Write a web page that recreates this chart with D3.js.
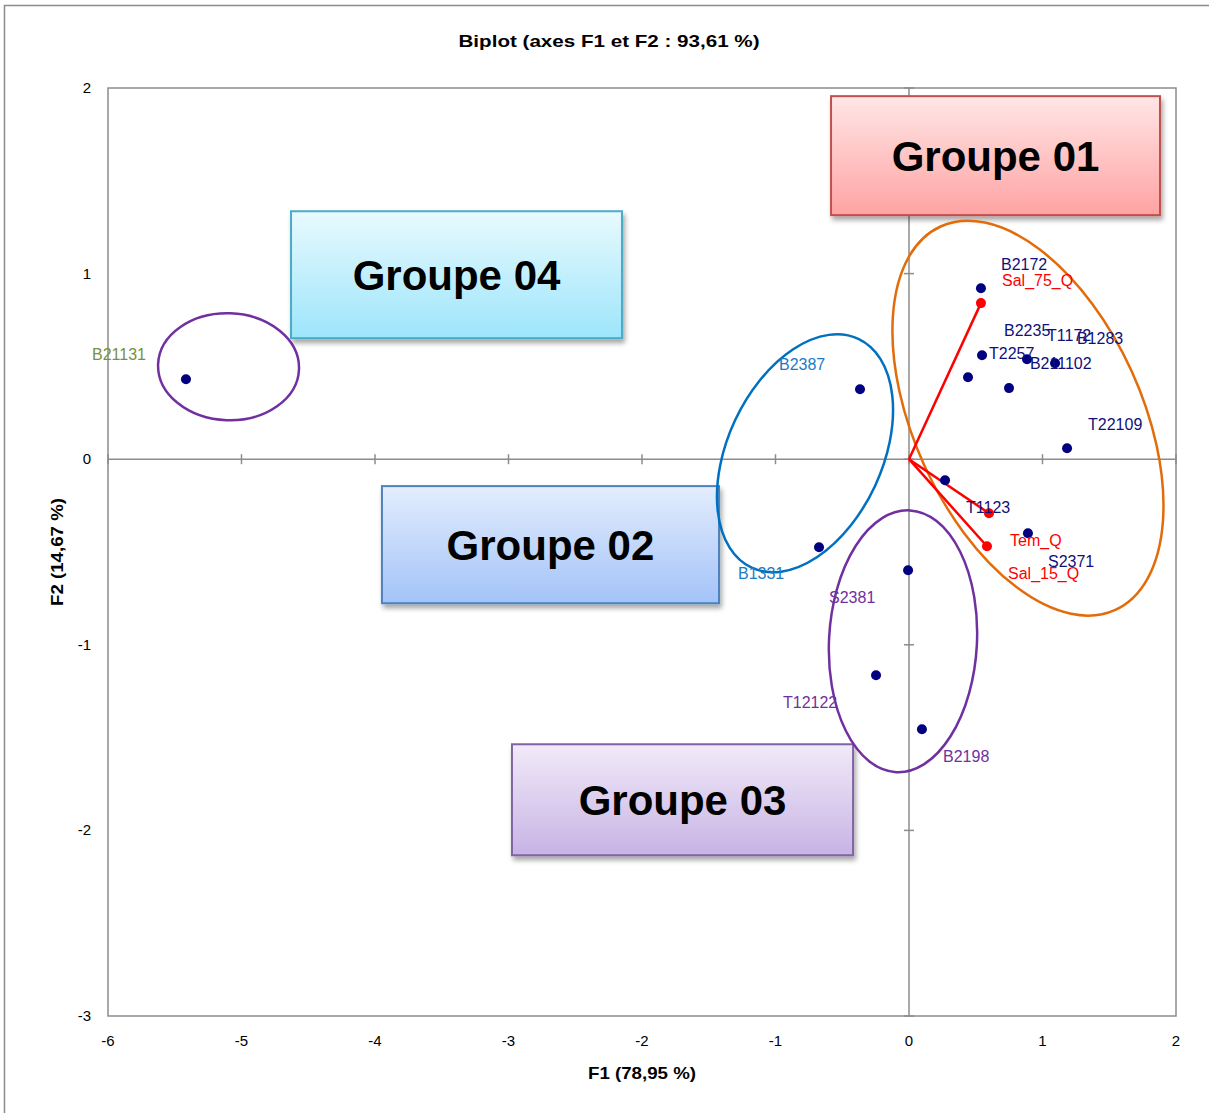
<!DOCTYPE html>
<html><head><meta charset="utf-8">
<script src="https://cdn.jsdelivr.net/npm/d3@7"></script>
<style>
html,body{margin:0;padding:0;background:#fff;}
svg{display:block;}
text{font-family:"Liberation Sans",Arial,sans-serif;}
</style></head>
<body>
<svg id="chart" width="1209" height="1113"></svg>
<script>
// ---------- data ----------
const titleText = "Biplot (axes F1 et F2 : 93,61 %)";
const xAxisTitle = "F1 (78,95 %)";
const yAxisTitle = "F2 (14,67 %)";
const xTicks = [-6,-5,-4,-3,-2,-1,0,1,2];
const yTicks = [-3,-2,-1,0,1,2];

// observations
const obsNames = ["B2172","T2257","B2235","T1172","B211102","B1283","T22109","T1123","S2371",
                  "B2387","B1331","S2381","T12122","B2198","B21131"];
const obsF1 = [0.539,0.547,0.442,0.749,0.884,1.094,1.184,0.270,0.891,
               -0.367,-0.674,-0.007,-0.247,0.097,-5.416];
const obsF2 = [0.921,0.560,0.442,0.383,0.539,0.517,0.059,-0.113,-0.399,
               0.377,-0.474,-0.598,-1.164,-1.455,0.431];
const obsGroup = ["g1","g1","g1","g1","g1","g1","g1","g1","g1","g2","g2","g3","g3","g3","g4"];
// label anchor (left, middle) in axis units
const obsLabelF1 = [0.689,0.599,0.712,1.034,0.906,1.258,1.341,0.427,1.041,
                    -0.974,-1.281,-0.599,-0.944,0.255,-6.120];
const obsLabelF2 = [1.051,0.571,0.695,0.668,0.517,0.652,0.189,-0.259,-0.550,
                    0.512,-0.614,-0.744,-1.309,-1.600,0.566];

// variables (vectors)
const varNames = ["Sal_75_Q","Tem_Q","Sal_15_Q"];
const varF1 = [0.539,0.599,0.584];
const varF2 = [0.841,-0.291,-0.469];
const varLabelF1 = [0.697,0.757,0.742];
const varLabelF2 = [0.964,-0.436,-0.614];

// group ellipses: centre (axis units), semi-axes (axis units of x / y), rotation (deg)
const ellGroup = ["g1","g2","g3","g4"];
const ellCF1 = [0.891,-0.779,-0.045,-5.097];
const ellCF2 = [0.221,0.032,-0.981,0.498];
const ellRX = [0.853,0.579,0.554,0.528];   // in F1 units
const ellRY = [1.135,0.680,0.706,0.288];   // in F2 units
const ellRot = [-24.5,25,3,2];

// group boxes (axis units)
const boxText = ["Groupe 01","Groupe 04","Groupe 02","Groupe 03"];
const boxX0 = [-0.584,-4.629,-3.948,-2.974];
const boxX1 = [1.880,-2.150,-1.423,-0.419];
const boxY0 = [1.956,1.336,-0.145,-1.536];
const boxY1 = [1.315,0.652,-0.776,-2.134];
const boxKey = ["g1","g4","g2","g3"];

// ---------- styles ----------
const labelColor = {g1:"#10107a", g2:"#1b7cc4", g3:"#7030a0", g4:"#76923c"};
const ellColor = {g1:"#e36c0a", g2:"#0070c0", g3:"#7030a0", g4:"#7030a0"};
const boxStyle = {
  g1:{top:"#ffe6e6", bot:"#ffa3a3", stroke:"#c0504d"},
  g4:{top:"#e8fafe", bot:"#9de5fb", stroke:"#4bacc6"},
  g2:{top:"#e3edfd", bot:"#a3c3f8", stroke:"#4f81bd"},
  g3:{top:"#f1eaf8", bot:"#c8b3e5", stroke:"#8064a2"}
};

const svg = d3.select("#chart");
const x = d3.scaleLinear().domain([-6,2]).range([108,1176]);
const y = d3.scaleLinear().domain([-3,2]).range([1016,88]);

const defs = svg.append("defs");
const f = defs.append("filter").attr("id","shadow").attr("x","-10%").attr("y","-10%").attr("width","130%").attr("height","140%");
f.append("feDropShadow").attr("dx",2).attr("dy",4).attr("stdDeviation",2.5).attr("flood-color","#000").attr("flood-opacity",0.35);
boxKey.forEach(k=>{
  const g = defs.append("linearGradient").attr("id","grad_"+k).attr("x1",0).attr("y1",0).attr("x2",0).attr("y2",1);
  g.append("stop").attr("offset","0%").attr("stop-color",boxStyle[k].top);
  g.append("stop").attr("offset","100%").attr("stop-color",boxStyle[k].bot);
});

// outer chart frame
svg.append("rect").attr("x",4.5).attr("y",5.5).attr("width",1220).attr("height",1120)
  .attr("fill","none").attr("stroke","#8c8c8c").attr("stroke-width",1.5);

// title
svg.append("text").attr("x",609).attr("y",47).attr("text-anchor","middle")
  .attr("font-size",17).attr("font-weight","bold").attr("textLength",301)
  .attr("lengthAdjust","spacingAndGlyphs").text(titleText);

// plot frame
svg.append("rect").attr("x",x(-6)).attr("y",y(2)).attr("width",x(2)-x(-6)).attr("height",y(-3)-y(2))
  .attr("fill","none").attr("stroke","#8c8c8c").attr("stroke-width",1.5);

// zero axes
const axCol = "#8c8c8c";
svg.append("line").attr("x1",x(-6)).attr("x2",x(2)).attr("y1",y(0)).attr("y2",y(0)).attr("stroke",axCol).attr("stroke-width",1.5);
svg.append("line").attr("x1",x(0)).attr("x2",x(0)).attr("y1",y(2)).attr("y2",y(-3)).attr("stroke",axCol).attr("stroke-width",1.5);
// tick marks on zero axes
svg.selectAll(".xt").data(xTicks).join("line")
  .attr("x1",d=>x(d)).attr("x2",d=>x(d)).attr("y1",y(0)-5).attr("y2",y(0)+5).attr("stroke",axCol).attr("stroke-width",1.5);
svg.selectAll(".yt").data(yTicks).join("line")
  .attr("y1",d=>y(d)).attr("y2",d=>y(d)).attr("x1",x(0)-5).attr("x2",x(0)+5).attr("stroke",axCol).attr("stroke-width",1.5);

// tick labels
svg.selectAll(".xl").data(xTicks).join("text")
  .attr("x",d=>x(d)).attr("y",1046).attr("text-anchor","middle").attr("font-size",15).attr("fill","#000").text(d=>d);
svg.selectAll(".yl").data(yTicks).join("text")
  .attr("x",91).attr("y",d=>y(d)+5).attr("text-anchor","end").attr("font-size",15).attr("fill","#000").text(d=>d);

// axis titles
svg.append("text").attr("x",642).attr("y",1079).attr("text-anchor","middle").attr("font-size",17)
  .attr("font-weight","bold").attr("textLength",108).attr("lengthAdjust","spacingAndGlyphs").text(xAxisTitle);
svg.append("text").attr("transform","translate(63,552) rotate(-90)").attr("text-anchor","middle").attr("font-size",17)
  .attr("font-weight","bold").attr("textLength",108).attr("lengthAdjust","spacingAndGlyphs").text(yAxisTitle);

// group boxes
const pxPerX = x(1)-x(0), pxPerY = y(0)-y(1);
boxKey.forEach((k,i)=>{
  const g = svg.append("g");
  g.append("rect").attr("x",x(boxX0[i])).attr("y",y(boxY0[i]))
    .attr("width",x(boxX1[i])-x(boxX0[i])).attr("height",y(boxY1[i])-y(boxY0[i]))
    .attr("fill","url(#grad_"+k+")").attr("stroke",boxStyle[k].stroke).attr("stroke-width",2)
    .attr("filter","url(#shadow)");
  g.append("text").attr("x",(x(boxX0[i])+x(boxX1[i]))/2).attr("y",(y(boxY0[i])+y(boxY1[i]))/2)
    .attr("dy","0.36em").attr("text-anchor","middle").attr("font-size",42).attr("font-weight","bold")
    .attr("fill","#000").text(boxText[i]);
});

// ellipses
ellGroup.forEach((k,i)=>{
  svg.append("ellipse")
    .attr("transform",`translate(${x(ellCF1[i])},${y(ellCF2[i])}) rotate(${ellRot[i]})`)
    .attr("rx",ellRX[i]*pxPerX).attr("ry",ellRY[i]*pxPerY)
    .attr("fill","none").attr("stroke",ellColor[k]).attr("stroke-width",2.5);
});

// variable vectors
varNames.forEach((n,i)=>{
  svg.append("line").attr("x1",x(0)).attr("y1",y(0)).attr("x2",x(varF1[i])).attr("y2",y(varF2[i]))
    .attr("stroke","#ff0000").attr("stroke-width",2.5);
});
svg.selectAll(".vp").data(varNames).join("circle")
  .attr("cx",(d,i)=>x(varF1[i])).attr("cy",(d,i)=>y(varF2[i])).attr("r",5).attr("fill","#ff0000");

// observation points
svg.selectAll(".op").data(obsNames).join("circle")
  .attr("cx",(d,i)=>x(obsF1[i])).attr("cy",(d,i)=>y(obsF2[i])).attr("r",5).attr("fill","#000080");

// labels
svg.selectAll(".ol").data(obsNames).join("text")
  .attr("x",(d,i)=>x(obsLabelF1[i])).attr("y",(d,i)=>y(obsLabelF2[i])).attr("dy","0.36em")
  .attr("font-size",16).attr("fill",(d,i)=>labelColor[obsGroup[i]]).text(d=>d);
svg.selectAll(".vl").data(varNames).join("text")
  .attr("x",(d,i)=>x(varLabelF1[i])).attr("y",(d,i)=>y(varLabelF2[i])).attr("dy","0.36em")
  .attr("font-size",16).attr("fill","#ff0000").text(d=>d);
</script>
</body></html>
